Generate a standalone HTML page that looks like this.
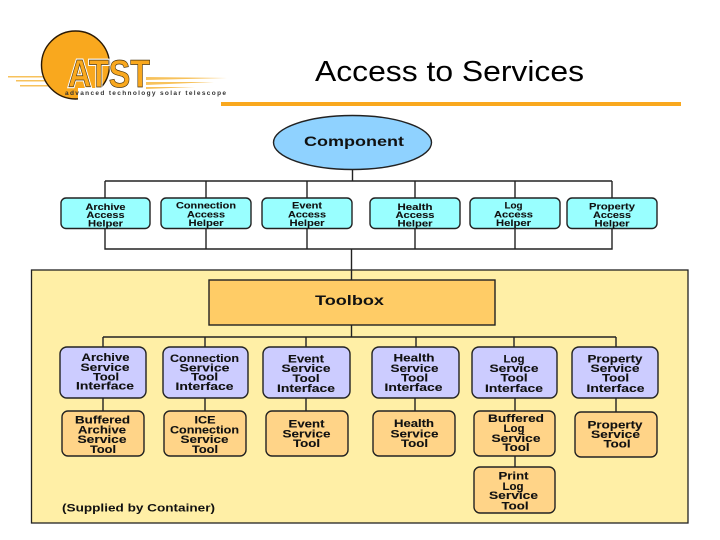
<!DOCTYPE html>
<html><head><meta charset="utf-8"><style>
html,body{margin:0;padding:0;background:#fff;width:720px;height:540px;overflow:hidden}
svg{display:block}
text{font-family:"Liberation Sans",sans-serif}
.d text{font-weight:bold;fill:#111;text-anchor:middle;stroke:#111;stroke-width:.1}
.h text{font-size:9.300px}.p text{font-size:10.800px}
</style></head><body>
<svg width="720" height="540" viewBox="0 0 720 540" xmlns="http://www.w3.org/2000/svg">
<rect width="720" height="540" fill="#fff"/>
<!-- logo -->
<g fill="#f7c25c">
<rect x="8" y="76" width="60" height="1.500"/><rect x="16" y="80" width="50" height="1.500"/><rect x="20" y="85" width="44" height="1.500"/>
<path d="M146 77L227 78L146 80Z"/><path d="M146 82L214 82L146 85Z"/><path d="M146 87L195 87L146 89Z"/>
</g>
<circle cx="75.500" cy="65" r="34" fill="#f9a81e" stroke="#2a1a05" stroke-width="1.400"/>
<path d="M78 88H112V100H78Z" fill="#fff"/>
<text x="68" y="87" font-size="39" font-weight="bold" textLength="82" lengthAdjust="spacingAndGlyphs" fill="#fff" stroke="#fff" stroke-width="3">ATST</text>
<text x="68" y="87" font-size="39" font-weight="bold" textLength="82" lengthAdjust="spacingAndGlyphs" fill="#f9a81e" stroke="#4a3410" stroke-width=".7">ATST</text>
<text x="65" y="95" font-size="6.500" font-weight="bold" textLength="161" fill="#333">advanced technology solar telescope</text>
<!-- title -->
<text x="315" y="81" font-size="29" textLength="269" lengthAdjust="spacingAndGlyphs" fill="#000">Access to Services</text>
<rect x="221" y="102" width="460" height="4" fill="#f9a81e"/>
<!-- panel -->
<rect x="31.500" y="270" width="656.500" height="253" fill="#ffefa6" stroke="#222" stroke-width="1.300"/>
<!-- connectors -->
<g fill="none" stroke="#222" stroke-width="1.400">
<path d="M352.500 169V181M105 181H612M105 181V198M206 181V198M307 181V198M415 181V198M515 181V198M612 181V198"/>
<path d="M105 228V249H612V228M206 228V249M307 228V249M415 228V249M515 228V249M351.500 249V280"/>
<path d="M351.500 325V337M103 337H616M103 337V347M205 337V347M306 337V347M416 337V347M514 337V347M616 337V347"/>
<path d="M103 398V411M205 398V411M306 398V411M415 398V411M515 398V411M616 398V412M515 455V467"/>
</g>
<!-- component -->
<ellipse cx="352.500" cy="142.500" rx="79" ry="27" fill="#8fd2ff" stroke="#222" stroke-width="1.400"/>
<text x="304" y="146" font-size="13.500" font-weight="bold" textLength="100" lengthAdjust="spacingAndGlyphs" fill="#111">Component</text>
<!-- helpers -->
<g fill="#99ffff" stroke="#222" stroke-width="1.400">
<rect x="61" y="198" width="89" height="30.500" rx="5"/><rect x="161" y="198" width="90" height="30.500" rx="5"/><rect x="262" y="198" width="90" height="30.500" rx="5"/>
<rect x="370" y="198" width="90" height="30.500" rx="5"/><rect x="470" y="198" width="90" height="30.500" rx="5"/><rect x="567" y="198" width="90" height="30.500" rx="5"/>
</g>
<!-- toolbox -->
<rect x="209" y="280" width="286" height="45" fill="#ffcc66" stroke="#222" stroke-width="1.400"/>
<text x="315" y="305" font-size="13.500" font-weight="bold" textLength="69" lengthAdjust="spacingAndGlyphs" fill="#111">Toolbox</text>
<!-- interfaces -->
<g fill="#ccccff" stroke="#222" stroke-width="1.400">
<rect x="60" y="347" width="86" height="51" rx="7"/><rect x="163" y="347" width="85" height="51" rx="7"/><rect x="263" y="347" width="87" height="51" rx="7"/>
<rect x="372" y="347" width="87" height="51" rx="7"/><rect x="472" y="347" width="85" height="51" rx="7"/><rect x="572" y="347" width="86" height="51" rx="7"/>
</g>
<!-- tools -->
<g fill="#ffd488" stroke="#222" stroke-width="1.400">
<rect x="62" y="411" width="82" height="45" rx="6"/><rect x="164" y="411" width="82" height="45" rx="6"/><rect x="266" y="411" width="82" height="45" rx="6"/>
<rect x="373" y="411" width="82" height="45" rx="6"/><rect x="474" y="411" width="81" height="45" rx="6"/><rect x="575" y="412" width="82" height="45" rx="6"/>
<rect x="474" y="467" width="81" height="46" rx="6"/>
</g>
<g class="d h">
<text x="105.500" y="210" textLength="40" lengthAdjust="spacingAndGlyphs">Archive</text><text x="105.500" y="218" textLength="38" lengthAdjust="spacingAndGlyphs">Access</text><text x="105.500" y="226.500" textLength="35" lengthAdjust="spacingAndGlyphs">Helper</text>
<text x="206" y="208.500" textLength="60" lengthAdjust="spacingAndGlyphs">Connection</text><text x="206" y="217.500" textLength="38" lengthAdjust="spacingAndGlyphs">Access</text><text x="206" y="226" textLength="35" lengthAdjust="spacingAndGlyphs">Helper</text>
<text x="307" y="208.500" textLength="30" lengthAdjust="spacingAndGlyphs">Event</text><text x="307" y="217.500" textLength="38" lengthAdjust="spacingAndGlyphs">Access</text><text x="307" y="226" textLength="35" lengthAdjust="spacingAndGlyphs">Helper</text>
<text x="415" y="210" textLength="35" lengthAdjust="spacingAndGlyphs">Health</text><text x="415" y="218" textLength="39" lengthAdjust="spacingAndGlyphs">Access</text><text x="415" y="226.500" textLength="35" lengthAdjust="spacingAndGlyphs">Helper</text>
<text x="513.500" y="208.500" textLength="18" lengthAdjust="spacingAndGlyphs">Log</text><text x="513.500" y="217.500" textLength="39" lengthAdjust="spacingAndGlyphs">Access</text><text x="513.500" y="226" textLength="35" lengthAdjust="spacingAndGlyphs">Helper</text>
<text x="612" y="209.500" textLength="46" lengthAdjust="spacingAndGlyphs">Property</text><text x="612" y="218" textLength="38" lengthAdjust="spacingAndGlyphs">Access</text><text x="612" y="226.500" textLength="35" lengthAdjust="spacingAndGlyphs">Helper</text>
</g>
<g class="d p">
<text x="105.500" y="361" textLength="48" lengthAdjust="spacingAndGlyphs">Archive</text><text x="105" y="371" textLength="49" lengthAdjust="spacingAndGlyphs">Service</text><text x="106" y="380.500" textLength="26" lengthAdjust="spacingAndGlyphs">Tool</text><text x="105" y="389.700" textLength="58" lengthAdjust="spacingAndGlyphs">Interface</text>
<text x="204.500" y="362" textLength="69" lengthAdjust="spacingAndGlyphs">Connection</text><text x="204.500" y="371.500" textLength="50" lengthAdjust="spacingAndGlyphs">Service</text><text x="204.500" y="380.500" textLength="27" lengthAdjust="spacingAndGlyphs">Tool</text><text x="204.500" y="390" textLength="58" lengthAdjust="spacingAndGlyphs">Interface</text>
<text x="306" y="362.500" textLength="36" lengthAdjust="spacingAndGlyphs">Event</text><text x="306" y="372" textLength="49" lengthAdjust="spacingAndGlyphs">Service</text><text x="306" y="382" textLength="27" lengthAdjust="spacingAndGlyphs">Tool</text><text x="306" y="392" textLength="58" lengthAdjust="spacingAndGlyphs">Interface</text>
<text x="414" y="361.500" textLength="41" lengthAdjust="spacingAndGlyphs">Health</text><text x="414.500" y="372" textLength="48" lengthAdjust="spacingAndGlyphs">Service</text><text x="414.500" y="381.500" textLength="27" lengthAdjust="spacingAndGlyphs">Tool</text><text x="413.500" y="391" textLength="58" lengthAdjust="spacingAndGlyphs">Interface</text>
<text x="514" y="362.500" textLength="21" lengthAdjust="spacingAndGlyphs">Log</text><text x="514" y="372" textLength="49" lengthAdjust="spacingAndGlyphs">Service</text><text x="514" y="381.500" textLength="27" lengthAdjust="spacingAndGlyphs">Tool</text><text x="514" y="392" textLength="58" lengthAdjust="spacingAndGlyphs">Interface</text>
<text x="615" y="362.500" textLength="55" lengthAdjust="spacingAndGlyphs">Property</text><text x="615" y="372" textLength="49" lengthAdjust="spacingAndGlyphs">Service</text><text x="615.500" y="381.500" textLength="27" lengthAdjust="spacingAndGlyphs">Tool</text><text x="615.500" y="392" textLength="58" lengthAdjust="spacingAndGlyphs">Interface</text>
<text x="102.500" y="423.500" textLength="55" lengthAdjust="spacingAndGlyphs">Buffered</text><text x="102" y="433.500" textLength="48" lengthAdjust="spacingAndGlyphs">Archive</text><text x="102" y="443" textLength="49" lengthAdjust="spacingAndGlyphs">Service</text><text x="103" y="453" textLength="26" lengthAdjust="spacingAndGlyphs">Tool</text>
<text x="205" y="423.500" textLength="21" lengthAdjust="spacingAndGlyphs">ICE</text><text x="204.500" y="433.500" textLength="69" lengthAdjust="spacingAndGlyphs">Connection</text><text x="204.500" y="443" textLength="48" lengthAdjust="spacingAndGlyphs">Service</text><text x="205" y="453" textLength="26" lengthAdjust="spacingAndGlyphs">Tool</text>
<text x="306.500" y="427.500" textLength="36" lengthAdjust="spacingAndGlyphs">Event</text><text x="306.500" y="437.500" textLength="48" lengthAdjust="spacingAndGlyphs">Service</text><text x="306.500" y="447" textLength="27" lengthAdjust="spacingAndGlyphs">Tool</text>
<text x="414" y="427" textLength="40" lengthAdjust="spacingAndGlyphs">Health</text><text x="414.500" y="437.500" textLength="48" lengthAdjust="spacingAndGlyphs">Service</text><text x="414.500" y="447" textLength="27" lengthAdjust="spacingAndGlyphs">Tool</text>
<text x="516" y="422" textLength="56" lengthAdjust="spacingAndGlyphs">Buffered</text><text x="514" y="432" textLength="21" lengthAdjust="spacingAndGlyphs">Log</text><text x="516" y="442" textLength="49" lengthAdjust="spacingAndGlyphs">Service</text><text x="516" y="451" textLength="27" lengthAdjust="spacingAndGlyphs">Tool</text>
<text x="615" y="428.500" textLength="55" lengthAdjust="spacingAndGlyphs">Property</text><text x="615.500" y="438" textLength="49" lengthAdjust="spacingAndGlyphs">Service</text><text x="617" y="447.500" textLength="27" lengthAdjust="spacingAndGlyphs">Tool</text>
<text x="513.500" y="479.500" textLength="30" lengthAdjust="spacingAndGlyphs">Print</text><text x="513" y="490" textLength="21" lengthAdjust="spacingAndGlyphs">Log</text><text x="513.500" y="499" textLength="49" lengthAdjust="spacingAndGlyphs">Service</text><text x="515" y="509.500" textLength="27" lengthAdjust="spacingAndGlyphs">Tool</text>
</g>
<text x="62" y="511.500" font-size="11" font-weight="bold" textLength="153" lengthAdjust="spacingAndGlyphs" fill="#111">(Supplied by Container)</text>
</svg>
</body></html>
